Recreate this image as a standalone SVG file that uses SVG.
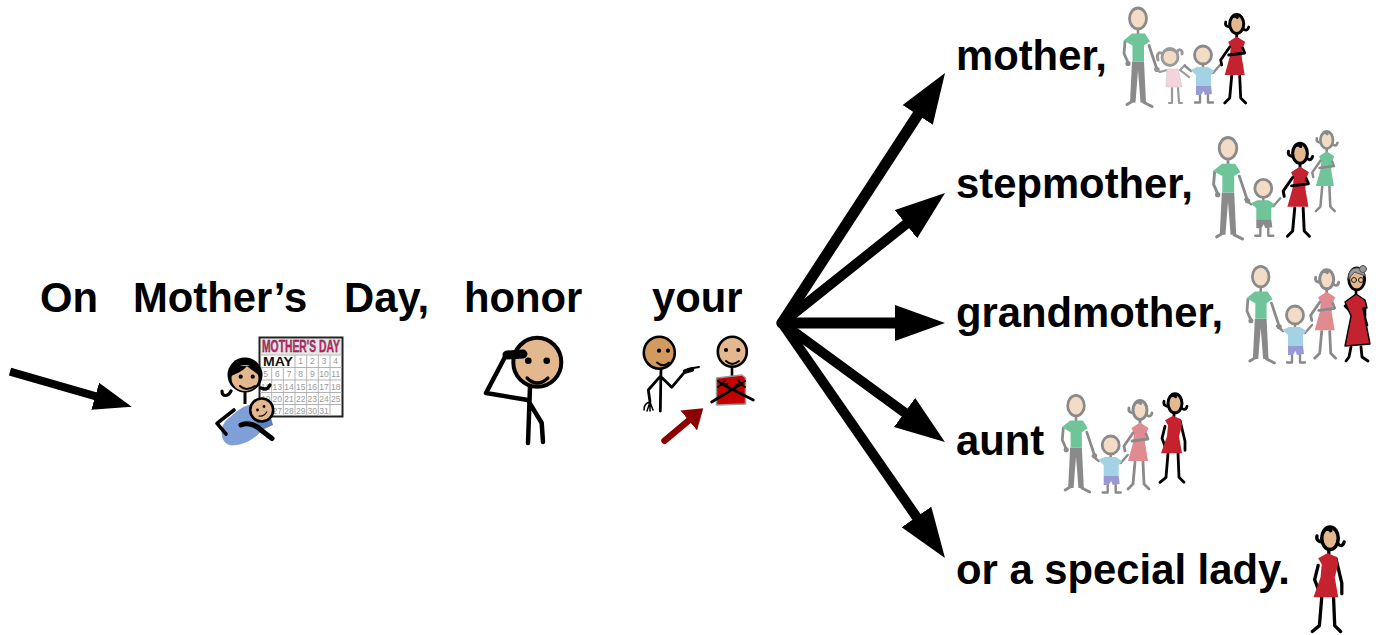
<svg xmlns="http://www.w3.org/2000/svg" width="1378" height="635" viewBox="0 0 1378 635">
<style>
.t{font-family:"Liberation Sans",Arial,sans-serif;font-weight:700;font-size:41.8px;fill:#000}
.n{font-family:"Liberation Sans",Arial,sans-serif;font-size:8.5px;fill:#999;text-anchor:middle}
.l{fill:none;stroke:var(--s,#000);stroke-linecap:round;stroke-linejoin:round}
.h{fill:var(--f,#f3dcc6);stroke:var(--s,#8a8a8a);stroke-width:2.8}
.c{fill:var(--a);stroke:var(--b,none);stroke-width:.6;stroke-linejoin:round}
.conn{fill:none;stroke:#000;stroke-linecap:round}
.gray{--s:#8a8a8a;--f:#f3dcc6}
.blk{--s:#000;--f:#e3b88f}
</style>
<defs>
<marker id="hL" markerUnits="userSpaceOnUse" markerWidth="50" markerHeight="36" viewBox="0 0 50 36" refX="30" refY="18" orient="auto"><path d="M0,0L50,18L0,36z" fill="#000"/></marker>
<marker id="hS" markerUnits="userSpaceOnUse" markerWidth="38" markerHeight="28" viewBox="0 0 38 28" refX="18" refY="14" orient="auto"><path d="M0,0L38,14L0,28z" fill="#000"/></marker>
<marker id="hR" markerUnits="userSpaceOnUse" markerWidth="19" markerHeight="26" viewBox="0 0 19 26" refX="9" refY="13" orient="auto"><path d="M0,0L19,13L0,26z" fill="#8b0000"/></marker>
<g id="man">
<path class="l" stroke-width="2.600" d="M0,10V15"/>
<path d="M-6,43H6L8,84H2.500L0,52L-2.500,84H-8z" fill="var(--s)"/>
<path class="l" stroke-width="3" d="M-11,86L-6,83M14,88L6,84"/>
<path class="l" stroke-width="2.800" d="M-13,23L-14,35L-10,44M11,27L17,45L19,51"/>
<circle cx="-10" cy="45" r="2.600" fill="#8a8a8a"/><circle cx="19" cy="51" r="2.600" fill="#8a8a8a"/>
<path class="c" d="M-14.500,22L-6,15H7L12,23L6,27V43H-5.500V27z"/>
<ellipse class="h" rx="8.500" ry="10.500"/>
</g>
<g id="womanHead">
<path class="l" stroke-width="2.800" d="M-6,3C-9,3-12,2-11,-2M6,4C8,7 11,7 12,3"/>
<ellipse class="h" rx="7" ry="9.500" style="stroke-width:3"/>
<path d="M-7.500,-1C-8,-13 8,-13 7.500,-1C7,-6 5,-8 2,-8C3,-5 0,-4 -1,-6C-4,-7 -7,-5 -7.500,-1z" fill="var(--s)"/>
</g>
<g id="womanA">
<path class="l" stroke-width="2.800" d="M0,9.500V13M-5,52L-7,74L-12,79M3,52L4,74L9,79"/>
<path class="c" d="M-8.500,18L0,12.500L8.500,18L6,24L5,33L8,51H-12L-7,33L-6,24z"/>
<use href="#womanHead"/>
<path class="l" stroke-width="2.800" d="M-7,23L-16,36L-15,41M6,24L8,29L-8,31"/>
</g>
<g id="womanB">
<path class="l" stroke-width="2.800" d="M-1,9.500V13M-7,50L-9,74L-15,79M3,50L4,74L9,79"/>
<path class="l" stroke-width="2.800" d="M-10,23L-13,35L-10,43M5,17L10,38L10,47"/>
<path class="c" d="M-10,17L-2,12.500L6,16L7,22L4,33L7,50H-14L-8,33L-7,22z"/>
<use href="#womanHead"/>
</g>
<g id="boy">
<path class="l" stroke-width="2.400" d="M0,9V13M-3,40V47M5,40V47M-8,47.500H-3M5,47.500H10M-12,16L-18,11M10,18L17,10"/>
<path class="c" d="M-12.500,15L-6,12H5L11.500,16L8,20L8,31H-7L-7,20z"/>
<path d="M-7,31H8L9,39L2,40L0.500,36L-2,40L-7,40z" fill="var(--b2)"/>
<ellipse class="h" rx="8.500" ry="9"/>
</g>
</defs>

<g id="connectors">
<line class="conn" x1="782" y1="323" x2="934.100" y2="89.800" stroke-width="11" marker-end="url(#hL)"/>
<line class="conn" x1="782" y1="323" x2="929.400" y2="205.500" stroke-width="10" marker-end="url(#hL)"/>
<line class="conn" x1="782" y1="323" x2="925" y2="323" stroke-width="11" marker-end="url(#hL)"/>
<line class="conn" x1="782" y1="323" x2="928.800" y2="430.200" stroke-width="10" marker-end="url(#hL)"/>
<line class="conn" x1="782" y1="323" x2="933.600" y2="541.600" stroke-width="10" marker-end="url(#hL)"/>
<line x1="10" y1="371.700" x2="112.500" y2="401.200" stroke="#000" stroke-width="8" marker-end="url(#hS)"/>
<line x1="664.500" y1="440.700" x2="695.600" y2="414.700" stroke="#8b0000" stroke-width="6.500" stroke-linecap="round" marker-end="url(#hR)"/>
</g>

<g id="word-on"><text class="t" x="40" y="312">On</text></g>
<g id="word-mothers"><text class="t" x="133" y="312">Mother’s</text></g>
<g id="word-day"><text class="t" x="344" y="312">Day,</text></g>
<g id="word-honor"><text class="t" x="464" y="312">honor</text></g>
<g id="word-your"><text class="t" x="652" y="312">your</text></g>

<g id="mothers-day-icon">
<rect x="259.500" y="337.500" width="83" height="79" fill="#fff" stroke="#222" stroke-width="2"/>
<rect x="261" y="339" width="80" height="15.500" fill="#e6e6e6"/>
<text x="262" y="352" textLength="78" lengthAdjust="spacingAndGlyphs" font-family="'Liberation Sans',Arial,sans-serif" font-weight="700" font-size="16.500" fill="#d0286e" stroke="#222" stroke-width=".35">MOTHER'S DAY</text>
<path d="M260,355H342M260,367.500H342M260,380H342M260,392.500H342M260,404.500H342M295,355V367.500M306.700,355V416M318.300,355V416M330,355V416M271.700,367.500V416M283.300,367.500V416M295,367.500V416" fill="none" stroke="#aaa" stroke-width=".9"/>
<text x="263" y="366" font-family="'Liberation Sans',Arial,sans-serif" font-weight="700" font-size="13" textLength="30" lengthAdjust="spacingAndGlyphs" fill="#111">MAY</text>
<text class="n"><tspan x="300.700" y="364">1</tspan><tspan x="312.300" y="364">2</tspan><tspan x="324" y="364">3</tspan><tspan x="335.700" y="364">4</tspan></text>
<text class="n"><tspan x="265.700" y="377">5</tspan><tspan x="277.300" y="377">6</tspan><tspan x="289" y="377">7</tspan><tspan x="300.700" y="377">8</tspan><tspan x="312.300" y="377">9</tspan><tspan x="324" y="377">10</tspan><tspan x="335.700" y="377">11</tspan></text>
<text class="n"><tspan x="265.700" y="389.500">12</tspan><tspan x="277.300" y="389.500">13</tspan><tspan x="289" y="389.500">14</tspan><tspan x="300.700" y="389.500">15</tspan><tspan x="312.300" y="389.500">16</tspan><tspan x="324" y="389.500">17</tspan><tspan x="335.700" y="389.500">18</tspan></text>
<text class="n"><tspan x="265.700" y="401.500">19</tspan><tspan x="277.300" y="401.500">20</tspan><tspan x="289" y="401.500">21</tspan><tspan x="300.700" y="401.500">22</tspan><tspan x="312.300" y="401.500">23</tspan><tspan x="324" y="401.500">24</tspan><tspan x="335.700" y="401.500">25</tspan></text>
<text class="n"><tspan x="265.700" y="413.500">26</tspan><tspan x="277.300" y="413.500">27</tspan><tspan x="289" y="413.500">28</tspan><tspan x="300.700" y="413.500">29</tspan><tspan x="312.300" y="413.500">30</tspan><tspan x="324" y="413.500">31</tspan></text>
<path d="M222,432C222,425 226,420 232,416C238,410 246,405 252,405C258,410 264,418 263,428C258,436 246,445 232,445C226,445 222,440 222,432z" fill="#7f9fd8" stroke="#6a8ac8" stroke-width=".6"/>
<path d="M252,418L270,414L273,425L262,430z" fill="#5f80c4"/>
<path d="M234,410L217,423.300L226,434" fill="none" stroke="#000" stroke-width="3.600" stroke-linecap="round" stroke-linejoin="round"/>
<path d="M241,425C248,422 256,425 261,430L272,438.500" fill="none" stroke="#000" stroke-width="5" stroke-linecap="round"/>
<path d="M231,391C228,397 222,397 222,391M261,388C265,390 268,389 270,385" fill="none" stroke="#000" stroke-width="3.200" stroke-linecap="round"/>
<path d="M245,390V404" stroke="#000" stroke-width="3"/>
<ellipse cx="245" cy="375" rx="17.500" ry="17.500" fill="#000"/>
<ellipse cx="245" cy="378" rx="13.500" ry="13" fill="#e3b88f"/>
<path d="M231,376C236,374 243,371 247,366C251,370 256,372 259,376L259,366H231z" fill="#000"/>
<circle cx="240.700" cy="376.700" r="2.100"/><circle cx="252.700" cy="376.700" r="2.100"/>
<path d="M240,386Q246,392 255,386" fill="none" stroke="#000" stroke-width="2" stroke-linecap="round"/>
<circle cx="261.700" cy="410" r="11.500" fill="#e3b88f" stroke="#000" stroke-width="2.600"/>
<circle cx="257.500" cy="410" r="1.400"/><circle cx="264" cy="406.500" r="1.400"/>
<path d="M258.500,416Q264,417 267,411.500" fill="none" stroke="#000" stroke-width="1.200"/>
</g>

<g id="honor-icon" fill="none" stroke="#000" stroke-linecap="round" stroke-linejoin="round">
<path stroke-width="4.500" d="M530,387L528,443M529,402L541.700,423L543,442"/>
<path stroke-width="4.500" d="M505,357L486,393L528,400"/>
<ellipse cx="537.300" cy="362.300" rx="24" ry="24.500" fill="#e3b88f" stroke-width="4"/>
<path stroke-width="9" d="M507,355L523,354"/>
<circle cx="528.300" cy="360.700" r="3.300" fill="#000" stroke="none"/><circle cx="546.700" cy="360.700" r="3.300" fill="#000" stroke="none"/>
<path stroke-width="3.200" d="M527,378Q537,388 548,378"/>
</g>

<g id="your-icon" fill="none" stroke="#000" stroke-linecap="round" stroke-linejoin="round">
<path stroke-width="2.800" d="M661,368L660.300,411M661,376.700L671.700,387.300L685,371.700M660,376.700L648.300,390L650,401.700"/>
<path stroke-width="4.500" d="M685,371.500L692,369.500"/>
<path stroke-width="2" d="M688,369L699,367"/>
<path stroke-width="1.500" d="M650,402C645,403 644,407 644,410M650,402V411M650,402L653,410M650,402L647,411"/>
<ellipse cx="659.300" cy="352.700" rx="15.500" ry="16" fill="#d39a5f" stroke-width="2.600"/>
<circle cx="659" cy="350.700" r="2.100" fill="#000" stroke="none"/><circle cx="668" cy="350.700" r="2.100" fill="#000" stroke="none"/>
<path stroke-width="1.800" d="M657,362.500Q663,368 669,362.500"/>
<path stroke-width="2.600" d="M732,366V378"/>
<ellipse cx="732.300" cy="351.700" rx="14.500" ry="15" fill="#e3b88f" stroke-width="2.600"/>
<circle cx="726" cy="350" r="2.100" fill="#000" stroke="none"/><circle cx="738.300" cy="350" r="2.100" fill="#000" stroke="none"/>
<path stroke-width="1.800" d="M726,361Q732,367 739,361"/>
<path d="M716.500,378L742,375L745.500,378V404L716.500,405z" fill="#c40000" stroke="#9a9a9a" stroke-width="1.500"/>
<path stroke-width="2.800" d="M711.700,402L741,384M753.300,400L722,384"/>
<path stroke-width="2" d="M722,384L718,381M722,384L718,387M722,384L725,380M722,384L727,384M741,384L745,381M741,384L745,387M741,384L738,380M741,384L736,384"/>
</g>

<g id="word-mother"><text class="t" x="956" y="70">mother,</text></g>
<g id="word-stepmother"><text class="t" x="956" y="198">stepmother,</text></g>
<g id="word-grandmother"><text class="t" x="956" y="327">grandmother,</text></g>
<g id="word-aunt"><text class="t" x="956" y="455">aunt</text></g>
<g id="word-lady"><text class="t" x="956" y="584">or a special lady.</text></g>

<g id="family-mother">
<use href="#man" class="gray" transform="translate(1138 18.500)" style="--a:#6fc49a"/>
<g transform="translate(1170 57)" style="--s:#9a9a9a;--f:#f3dcc6">
<path class="l" stroke-width="2.200" d="M-3,13L-10,15L-15,12M10,13L15,8M10,13L19,20M2,31V45M8,31L9,45M-1,46H2M9,46H12"/>
<path class="c" style="--a:#f5d3da;--b:#c9c9c9" d="M-3,12H8L12,30H-4z"/>
<path class="l" stroke-width="3" d="M-7,-3C-11,-6-14,-3-12,3M7,-5C9,-9 13,-7 12,-3"/>
<ellipse class="h" cx="0" cy="0" rx="8" ry="8.500"/>
<path class="l" stroke-width="1.500" d="M-7,-4C-4,-8 3,-8 7,-4"/>
</g>
<use href="#boy" class="gray" transform="translate(1203 55)" style="--a:#a2d2e3;--b2:#9a9ad2"/>
<use href="#womanA" class="blk" transform="translate(1236.700 24)" style="--a:#c4222e"/>
</g>

<g id="family-stepmother">
<use href="#man" class="gray" transform="translate(1228 148.300) scale(1.030)" style="--a:#6fc49a"/>
<use href="#boy" class="gray" transform="translate(1263.300 188.300)" style="--a:#6fc49a;--b2:#8a8a8a"/>
<use href="#womanA" class="gray" transform="translate(1326.700 140) scale(.9)" style="--a:#6fc49a"/>
<use href="#womanA" class="blk" transform="translate(1300 153.300) scale(1.050)" style="--a:#c4222e"/>
</g>

<g id="family-grandmother">
<use href="#man" class="gray" transform="translate(1260.700 276.700) scale(.98)" style="--a:#6fc49a"/>
<use href="#boy" class="gray" transform="translate(1295 315)" style="--a:#a2d2e3;--b2:#9a9ad2"/>
<use href="#womanA" class="gray" transform="translate(1326.700 279.300)" style="--a:#e08a92"/>
<g id="grandma" fill="none" stroke="#000" stroke-linecap="round" stroke-linejoin="round">
<path stroke-width="2.800" d="M1351,347L1349,357L1346,361M1361,347L1362,357L1368,361"/>
<path stroke-width="2.600" d="M1356,291V296M1349,303L1345,306L1355,316L1359,323M1365,303L1365,318L1367,325"/>
<path d="M1345,302L1356,294L1365,300L1367,308L1363,308L1370,344L1345,346L1351,316z" fill="#c4222e" stroke-width="1.400"/>
<ellipse cx="1356.700" cy="279" rx="8" ry="11" fill="#e3b88f" stroke-width="2.800"/>
<path d="M1349,279C1346,266 1364,264 1365,276C1362,274 1358,274 1355,272C1353,274 1351,275 1349,279z" fill="#9a9a9a" stroke="#555" stroke-width="1"/>
<circle cx="1363" cy="269" r="3.500" fill="#9a9a9a" stroke="#555" stroke-width="1"/>
<circle cx="1354" cy="280" r="2.500" stroke-width=".8"/><circle cx="1361" cy="280" r="2.500" stroke-width=".8"/>
</g>
</g>

<g id="family-aunt">
<use href="#man" class="gray" transform="translate(1076 405.700) scale(.98)" style="--a:#6fc49a"/>
<use href="#boy" class="gray" transform="translate(1110.700 445)" style="--a:#a2d2e3;--b2:#9a9ad2"/>
<use href="#womanA" class="gray" transform="translate(1140 410)" style="--a:#e08a92"/>
<use href="#womanB" class="blk" transform="translate(1175 403.300)" style="--a:#c4222e"/>
</g>

<g id="special-lady">
<use href="#womanB" class="blk" transform="translate(1330 538.300) scale(1.180)" style="--a:#c4222e"/>
</g>
</svg>
